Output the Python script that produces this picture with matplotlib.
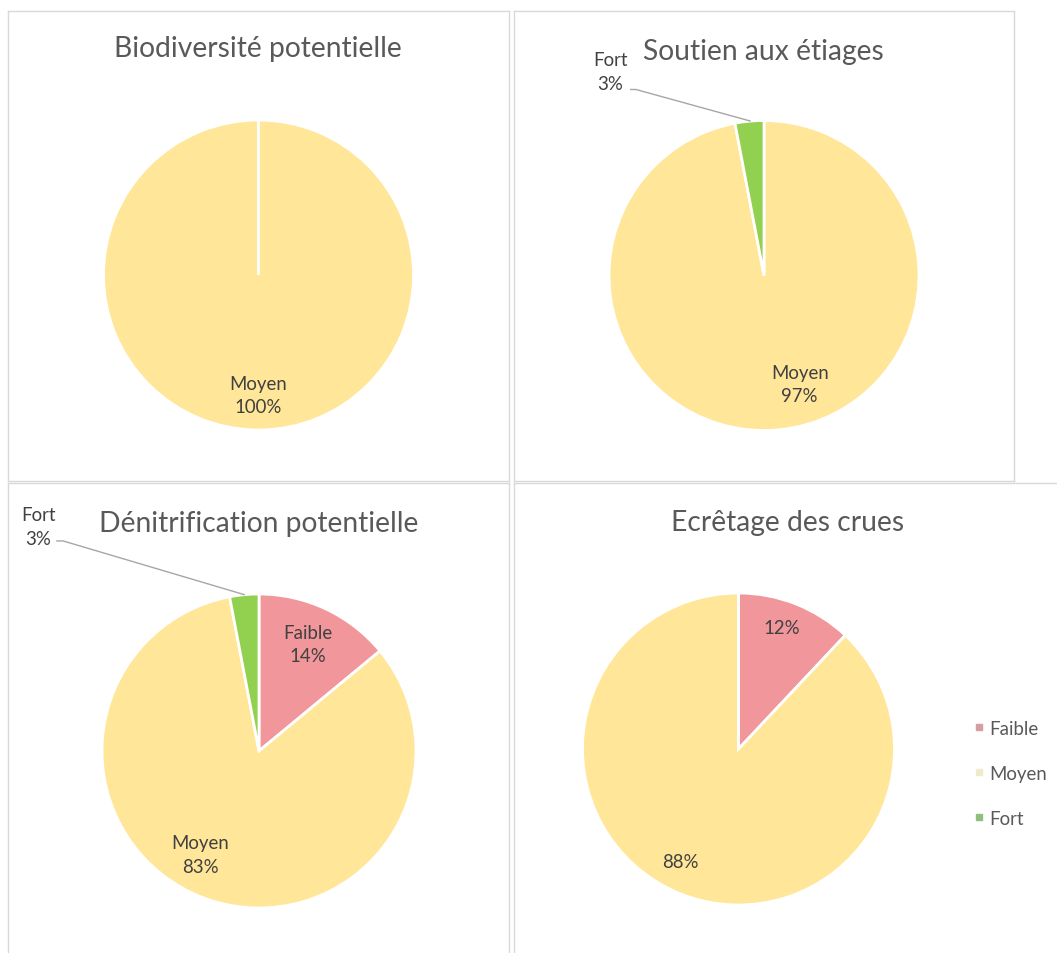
import matplotlib.pyplot as plt
from matplotlib.lines import Line2D

plt.rcParams['font.family'] = ['Lato', 'DejaVu Sans']

categories = ['Faible', 'Moyen', 'Fort']
titles = ['Biodiversité potentielle', 'Soutien aux étiages',
          'Dénitrification potentielle', 'Ecrêtage des crues']
biodiversite = [0, 100, 0]
etiages = [0, 97, 3]
denitrification = [14, 83, 3]
ecretage = [12, 88, 0]
panels = [biodiversite, etiages, denitrification, ecretage]

pie_colors = ['#F1979B', '#FFE699', '#92D050']
legend_colors = ['#D69EA3', '#EEEBCB', '#8FBF7C']

W, H = 1057, 954
fig = plt.figure(figsize=(W / 100, H / 100), dpi=100)

# layout, in pixels of the reference: panel frame, pie centre / radius, title centre+baseline
frames = [(8, 12, 509, 482), (514, 12, 1014, 482), (8, 484, 509, 980), (514, 484, 1090, 980)]
centres = [(258.5, 276), (764, 276.5), (259, 752), (738.5, 750)]
radius = [155, 155, 157, 156]
title_pos = [(258, 57), (763, 60), (259, 532), (788, 531)]

# data label positions in radius units from the pie centre (None = no label)
label_pos = [
    [None, (0.0, -0.774), None],
    [None, (0.23, -0.70), (-0.99, 1.316)],
    [(0.31, 0.68), (-0.376, -0.66), (-1.404, 1.43)],
    [(0.276, 0.776), (-0.375, -0.724), None],
]
show_name = [True, True, True, False]
leaders = [None,
           [(-0.86, 1.20), (-0.826, 1.20), (-0.09, 0.997)],
           [(-1.287, 1.338), (-1.248, 1.338), (-0.094, 0.996)],
           None]

for i, vals in enumerate(panels):
    x0, y0, x1, y1 = frames[i]
    cx, cy = centres[i]
    r = radius[i]
    ax = fig.add_axes([x0 / W, 1 - y1 / H, (x1 - x0) / W, (y1 - y0) / H])
    ax.pie(vals, colors=pie_colors, startangle=90, counterclock=False,
           wedgeprops=dict(edgecolor='white', linewidth=2))
    ax.set_xlim((x0 - cx) / r, (x1 - cx) / r)
    ax.set_ylim((cy - y1) / r, (cy - y0) / r)
    ax.set_aspect('auto')
    ax.set_frame_on(True)
    for s in ax.spines.values():
        s.set_color('#D9D9D9')
        s.set_linewidth(1)
    ax.set_xticks([])
    ax.set_yticks([])

    for j, pos in enumerate(label_pos[i]):
        if pos is None:
            continue
        txt = f"{vals[j]}%"
        if show_name[i]:
            txt = categories[j] + "\n" + txt
        ax.text(pos[0], pos[1], txt, ha='center', va='center', fontsize=13.4,
                color='#404040', linespacing=1.45)

    if leaders[i] is not None:
        xs = [p[0] for p in leaders[i]]
        ys = [p[1] for p in leaders[i]]
        ax.plot(xs, ys, color='#A6A6A6', lw=1)

    tx, ty = title_pos[i]
    fig.text(tx / W, 1 - ty / H, titles[i], ha='center', va='baseline',
             fontsize=20.3, color='#595959')

handles = [Line2D([], [], marker='s', ls='none', color=c, markersize=5)
           for c in legend_colors]
fig.legend(handles, categories, loc='upper left', bbox_to_anchor=(975 / W, 1 - 721 / H),
           frameon=False, borderpad=0, borderaxespad=0, handlelength=0.4,
           handletextpad=0.35, labelspacing=1.5, fontsize=13.4, labelcolor='#595959')

fig.savefig('out.png', dpi=100, facecolor='white')
